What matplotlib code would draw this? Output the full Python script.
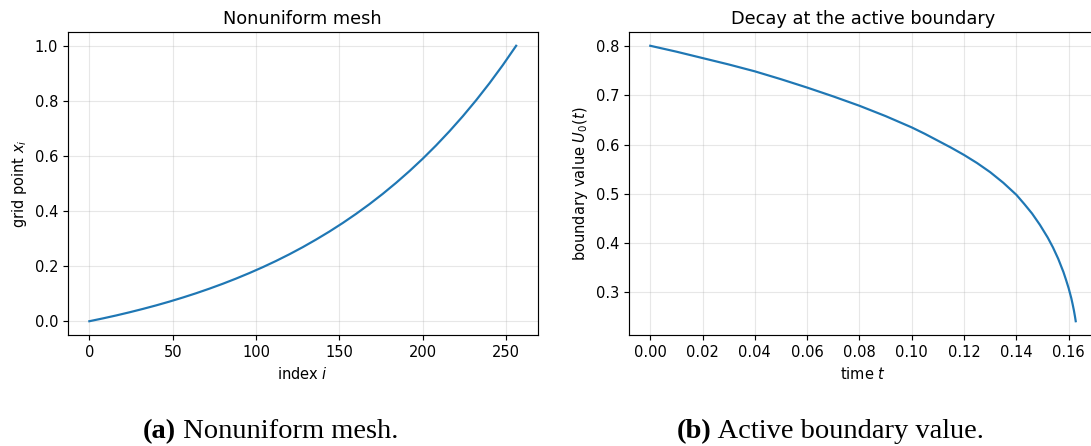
import matplotlib
matplotlib.use("Agg")
import matplotlib.pyplot as plt
from matplotlib.text import Annotation

# left panel: grid points of the nonuniform mesh
mesh_index = [0, 8, 16, 24, 32, 40, 48, 56, 64, 72, 80, 88, 96, 104, 112, 120, 128,
              136, 144, 152, 160, 168, 176, 184, 192, 200, 208, 216, 224, 232, 240, 248, 256]
mesh_x = [0.0, 0.0101, 0.0208, 0.0323, 0.0445, 0.0574, 0.0712, 0.0859, 0.1015, 0.1182,
          0.1359, 0.1548, 0.1749, 0.1962, 0.2189, 0.2431, 0.2689, 0.2965, 0.3256, 0.3567,
          0.3898, 0.4250, 0.4625, 0.5025, 0.5450, 0.5902, 0.6384, 0.6897, 0.7442, 0.8023,
          0.8641, 0.9299, 1.0]

# right panel: boundary value over time
time_t = [0.0, 0.01, 0.02, 0.03, 0.04, 0.05, 0.06, 0.07, 0.08, 0.09, 0.10, 0.105, 0.11,
          0.115, 0.12, 0.125, 0.13, 0.135, 0.14, 0.143, 0.146, 0.149, 0.152, 0.154, 0.156,
          0.158, 0.159, 0.160, 0.161, 0.1615, 0.162, 0.1624, 0.1627]
boundary_u = [0.801, 0.789, 0.776, 0.763, 0.749, 0.733, 0.716, 0.698, 0.679, 0.658, 0.635,
              0.622, 0.608, 0.594, 0.579, 0.5625, 0.544, 0.5225, 0.498, 0.4795, 0.460, 0.437,
              0.411, 0.391, 0.368, 0.341, 0.325, 0.308, 0.288, 0.276, 0.263, 0.251, 0.241]

s = 1.05
plt.rcParams.update({
    "font.size": 10 * s,
    "axes.titlesize": 12.8,
    "axes.linewidth": 0.8 * s,
    "xtick.major.size": 3.5 * s,
    "ytick.major.size": 3.5 * s,
    "xtick.major.width": 0.8 * s,
    "ytick.major.width": 0.8 * s,
})

W, H = 1091, 446
fig = plt.figure(figsize=(W / 100, H / 100), dpi=100)

def px_axes(left, right, top, bottom):
    return fig.add_axes([left / W, 1 - bottom / H, (right - left) / W, (bottom - top) / H])

ax1 = px_axes(68, 537.5, 32, 335)
ax1.plot(mesh_index, mesh_x, color="#1f77b4", lw=1.5 * s)
ax1.set_title("Nonuniform mesh")
ax1.set_xlabel("index $i$")
ax1.set_ylabel("grid point $x_i$")
ax1.grid(True, alpha=0.3)

ax2 = px_axes(629, 1097, 32, 335)
ax2.plot(time_t, boundary_u, color="#1f77b4", lw=1.5 * s)
ax2.set_title("Decay at the active boundary")
ax2.set_xlabel("time $t$")
ax2.set_ylabel("boundary value $U_0(t)$")
ax2.set_xticks([0.0, 0.02, 0.04, 0.06, 0.08, 0.10, 0.12, 0.14, 0.16])
ax2.grid(True, alpha=0.3)

# subfigure captions
def caption(x_px, tag, text):
    t1 = fig.text(x_px / W, 1 - 438 / H, tag, family="Liberation Serif",
                  fontweight="bold", fontsize=20.5, va="baseline", ha="left")
    ann = Annotation(" " + text, xy=(1, 0), xycoords=t1, xytext=(0, 0),
                     textcoords="offset points", family="Liberation Serif",
                     fontsize=20.5, va="bottom", ha="left")
    fig.add_artist(ann)

caption(143, "(a)", "Nonuniform mesh.")
caption(677, "(b)", "Active boundary value.")

fig.savefig("out.png", dpi=100)
